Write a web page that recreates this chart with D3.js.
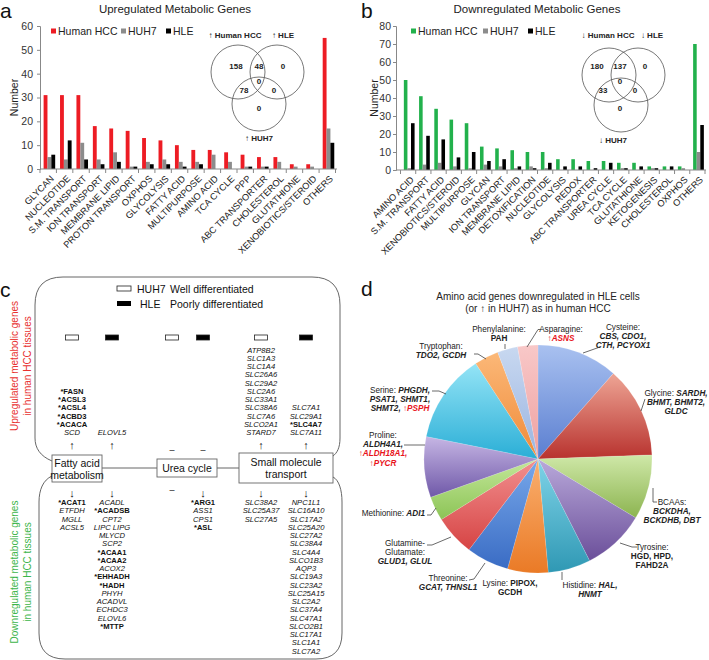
<!DOCTYPE html>
<html><head><meta charset="utf-8">
<script src="https://cdn.jsdelivr.net/npm/d3@7"></script>
<style>body{margin:0;background:#fff} svg{font-family:"Liberation Sans",Arial,sans-serif}</style>
</head><body><svg id="fig" width="709" height="660"></svg>
<script>
// ---------- DATA ----------
const catsA = ["GLYCAN","NUCLEOTIDE","S.M. TRANSPORT","ION TRANSPORT","MEMBRANE LIPID","PROTON TRANSPORT","OXPHOS","GLYCOLYSIS","FATTY ACID","MULTIPURPOSE","AMINO ACID","TCA CYCLE","PPP","ABC TRANSPORTER","CHOLESTEROL","GLUTATHIONE","XENOBIOTICS/STEROID","OTHERS"];
const hccA  = [31,31,31,18,17,16,13,12,10,8,8,7,6,5,5,2,2,55];
const huh7A = [5,4,11,4,7,1,3,4,3,3,6,3,1,1,3,1,1,17];
const hleA  = [6,12,4,2,3,1,2,2,1,2,0,0,1,1,0,0,0,11];
const ticksA = [0,10,20,30,40,50,60];

const catsB = ["AMINO ACID","S.M. TRANSPORT","FATTY ACID","XENOBIOTICS/STEROID","MULTIPURPOSE","GLYCAN","ION TRANSPORT","MEMBRANE LIPID","DETOXIFICATION","NUCLEOTIDE","GLYCOLYSIS","REDOX","ABC TRANSPORTER","UREA CYCLE","TCA CYCLE","GLUTATHIONE","KETOGENESIS","CHOLESTEROL","OXPHOS","OTHERS"];
const hccB  = [50,41,34,28,26,13,12,11,10,10,6,6,5,5,4,4,2,2,2,70];
const huh7B = [1,3,4,2,1,3,2,1,2,1,0,0,0,0,1,0,1,0,1,10];
const hleB  = [26,19,17,7,10,5,6,2,1,4,2,2,1,4,1,2,1,2,0,25];
const ticksB = [0,10,20,30,40,50,60,70,80];

const seriesNames = ["Human HCC","HUH7","HLE"];
// venn counts: HCC only, HCC∩HLE, HLE only, HCC∩HUH7, all, HLE∩HUH7, HUH7 only
const vennA = [158,48,0,78,0,0,0];
const vennB = [180,137,0,33,0,0,0];
const vennLabelsA = ["\u2191 Human HCC","\u2191 HLE","\u2191 HUH7"];
const vennLabelsB = ["\u2193 Human HCC","\u2193 HLE","\u2193 HUH7"];

// panel c
const processes = [["Fatty acid","metabolism"],["Urea cycle"],["Small molecule","transport"]];
const colCells = ["HUH7","HLE","HUH7","HLE","HUH7","HLE"];
const upGenes = [
  ["*FASN","*ACSL3","*ACSL4","*ACBD3","*ACACA","SCD"],
  ["ELOVL5"],
  [],[],
  ["ATP8B2","SLC1A3","SLC1A4","SLC26A6","SLC29A2","SLC2A6","SLC33A1","SLC38A6","SLC7A6","SLCO2A1","STARD7"],
  ["SLC7A1","SLC29A1","*SLC4A7","SLC7A11"]
];
const downGenes = [
  ["*ACAT1","ETFDH","MGLL","ACSL5"],
  ["ACADL","*ACADSB","CPT2","LIPC LIPG","MLYCD","SCP2","*ACAA1","*ACAA2","ACOX2","*EHHADH","*HADH","PHYH","ACADVL","ECHDC3","ELOVL6","*MTTP"],
  [],
  ["*ARG1","ASS1","CPS1","*ASL"],
  ["SLC38A2","SLC25A37","SLC27A5"],
  ["NPC1L1","SLC16A10","SLC17A2","SLC25A20","SLC27A2","SLC38A4","SLC4A4","SLCO1B3","AQP3","SLC19A3","SLC23A2","SLC25A15","SLC2A2","SLC37A4","SLC47A1","SLCO2B1","SLC17A1","SLC1A1","SLC7A2"]
];

// panel d
const pieNames  = ["Cysteine","Glycine","BCAAs","Tyrosine","Histidine","Lysine","Threonine","Glutamine-Glutamate","Methionine","Proline","Serine","Tryptophan","Phenylalanine","Asparagine"];
const pieValues = [4,4.5,3.2,3.1,2.1,2,2.1,2,1.2,3,4.4,1.2,1,1];

// ---------- STYLE / LAYOUT ----------
const RED="#ed1c24", GRAY="#8c8c8c", BLACK="#000", GREEN="#22b14c";
const svg = d3.select("#fig");

function barPanel(cfg){
  const g = svg.append("g");
  const x = d3.scaleBand().domain(cfg.cats).range([cfg.bx0,cfg.bx1]);
  const y = d3.scaleLinear().domain([0,cfg.ymax]).range([cfg.y0,cfg.y1]);
  const bw = x.bandwidth();
  const sub = d3.scaleBand().domain([0,1,2]).range([bw*0.22, bw*0.22+3*bw*0.235]);
  cfg.series.forEach((s,i)=>{
    g.append("g").selectAll("rect").data(s.values).join("rect")
      .attr("x",(d,j)=>x(cfg.cats[j])+sub(i)).attr("width",sub.bandwidth())
      .attr("y",d=>y(d)).attr("height",d=>y(0)-y(d)).attr("fill",s.color);
  });
  const ya = g.append("g").attr("transform",`translate(${cfg.ax},0)`)
    .call(d3.axisLeft(y).tickValues(cfg.ticks).tickSize(3).tickPadding(cfg.pad));
  ya.select(".domain").attr("stroke","#888");
  ya.selectAll(".tick line").attr("stroke","#888");
  ya.selectAll("text").attr("font-size",10.5).attr("fill","#333").attr("font-family","Liberation Sans, Arial");
  g.append("line").attr("x1",cfg.ax).attr("x2",cfg.ax1).attr("y1",cfg.y0).attr("y2",cfg.y0).attr("stroke","#888");
  const bounds = cfg.cats.map(c=>x(c)).concat([cfg.bx1]);
  g.selectAll("line.xt").data(bounds).join("line").attr("class","xt")
    .attr("x1",d=>d).attr("x2",d=>d).attr("y1",cfg.y0).attr("y2",cfg.y0+4).attr("stroke","#888");
  g.selectAll("text.xl").data(cfg.cats).join("text").attr("class","xl")
    .attr("transform",d=>`translate(${x(d)+bw/2+4},${cfg.y0+8}) rotate(-45)`)
    .attr("text-anchor","end").attr("dy","0.35em").attr("font-size",9.2).attr("fill","#222").text(d=>d);
  g.append("text").attr("transform",`translate(${cfg.numX},${(cfg.y0+cfg.y1)/2}) rotate(-90)`)
    .attr("text-anchor","middle").attr("font-size",10.5).attr("fill","#222").text("Number");
  g.append("text").attr("x",cfg.titleX).attr("y",13).attr("text-anchor","middle").attr("font-size",11.5).attr("fill","#222").text(cfg.title);
  g.append("text").attr("x",cfg.letterX).attr("y",18).attr("font-size",21).attr("fill","#111").text(cfg.letter);
  // legend
  cfg.series.forEach((s,i)=>{
    g.append("rect").attr("x",cfg.legX[i]).attr("y",28.5).attr("width",5).attr("height",5).attr("fill",s.color);
    g.append("text").attr("x",cfg.legX[i]+7).attr("y",35).attr("font-size",10.5).attr("fill","#222").text(seriesNames[i]);
  });
  // venn
  const vc = cfg.venn.centers;
  g.selectAll("circle").data(vc).join("circle").attr("cx",d=>d[0]).attr("cy",d=>d[1]).attr("r",27)
    .attr("fill","none").attr("stroke","#555").attr("stroke-width",0.8);
  g.selectAll("text.vn").data(cfg.venn.counts).join("text").attr("class","vn")
    .attr("x",(d,i)=>cfg.venn.pos[i][0]).attr("y",(d,i)=>cfg.venn.pos[i][1]+3)
    .attr("text-anchor","middle").attr("font-size",8).attr("font-weight","bold").attr("fill","#222").text(d=>d);
  g.selectAll("text.vl").data(cfg.venn.labels).join("text").attr("class","vl")
    .attr("x",(d,i)=>cfg.venn.lpos[i][0]).attr("y",(d,i)=>cfg.venn.lpos[i][1]+3)
    .attr("text-anchor","middle").attr("font-size",8).attr("font-weight","bold").attr("fill","#222").text(d=>d);
}

barPanel({cats:catsA, bx0:40, bx1:335.5, ax:40, ax1:337, y0:169, y1:26, ymax:60, ticks:ticksA, pad:4,
  series:[{values:hccA,color:RED},{values:huh7A,color:GRAY},{values:hleA,color:BLACK}],
  numX:18, title:"Upregulated Metabolic Genes", titleX:175, letter:"a", letterX:0, legX:[51,121,166],
  venn:{centers:[[238,72],[277,72],[259,104]], counts:vennA,
    pos:[[236,66],[259,66],[283,66],[244,90],[259,81],[274,90],[259,108]],
    labels:vennLabelsA, lpos:[[235,35],[283,35],[259,138]]}});

barPanel({cats:catsB, bx0:400.5, bx1:705, ax:396, ax1:706, y0:170, y1:26, ymax:80, ticks:ticksB, pad:2,
  series:[{values:hccB,color:GREEN},{values:huh7B,color:GRAY},{values:hleB,color:BLACK}],
  numX:378, title:"Downregulated Metabolic Genes", titleX:537, letter:"b", letterX:361, legX:[411,483,528],
  venn:{centers:[[609,75],[638,75],[621,105]], counts:vennB,
    pos:[[597,66],[620,66],[645,66],[603,90],[620,81],[635,90],[620,108]],
    labels:vennLabelsB, lpos:[[608,35],[652,35],[613,140]]}});

// ---------- PANEL C ----------
const gc = svg.append("g").attr("fill","#111");
gc.append("text").attr("x",0).attr("y",297).attr("font-size",21).text("c");
const frameStroke = "#555";
gc.append("path").attr("fill","none").attr("stroke",frameStroke).attr("stroke-width",0.9)
  .attr("d","M52,461 C40,456 35,448 35,438 L35,305 Q35,277 63,277 L312,277 Q340,277 340,305 L340,438 C340,448 337,453 333,456");
gc.append("path").attr("fill","none").attr("stroke",frameStroke).attr("stroke-width",0.9)
  .attr("d","M52,476 C43,480 39,490 39,502 L39,633 Q39,659 65,659 L316,659 Q342,659 342,633 L342,502 C342,490 339,480 333,477");
// legend
gc.append("rect").attr("x",117).attr("y",286).attr("width",14).attr("height",5).attr("fill","#fff").attr("stroke","#222").attr("stroke-width",0.8);
gc.append("text").attr("x",137).attr("y",293).attr("font-size",10.5).text("HUH7");
gc.append("text").attr("x",170).attr("y",293).attr("font-size",10.5).text("Well differentiated");
gc.append("rect").attr("x",117).attr("y",301).attr("width",14).attr("height",5).attr("fill","#000");
gc.append("text").attr("x",140).attr("y",308).attr("font-size",10.5).text("HLE");
gc.append("text").attr("x",170).attr("y",308).attr("font-size",10.5).text("Poorly differentiated");
// side labels
[["Upregulated metabolic genes","in human HCC tissues","#e8312f",366],["Downregulated metabolic genes","in human HCC tissues","#3cb54a",572]].forEach(s=>{
  gc.append("text").attr("transform",`translate(18,${s[3]}) rotate(-90)`).attr("text-anchor","middle").attr("font-size",10).attr("fill",s[2]).text(s[0]);
  gc.append("text").attr("transform",`translate(31,${s[3]}) rotate(-90)`).attr("text-anchor","middle").attr("font-size",10).attr("fill",s[2]).text(s[1]);
});
const colX = [72,112,172,203,261,306];
gc.selectAll("rect.cell").data(colCells).join("rect").attr("class","cell")
  .attr("x",(d,i)=>colX[i]-6.5).attr("y",335).attr("width",13).attr("height",5)
  .attr("fill",d=>d==="HLE"?"#000":"#fff").attr("stroke","#222").attr("stroke-width",0.8);
// process boxes
const boxes = [[52,455,50,27],[157,459,60,18],[239,453,94,30]];
processes.forEach((p,i)=>{
  const b = boxes[i];
  gc.append("rect").attr("x",b[0]).attr("y",b[1]).attr("width",b[2]).attr("height",b[3]).attr("fill","#fff").attr("stroke","#666").attr("stroke-width",0.9);
  p.forEach((t,k)=>gc.append("text").attr("x",b[0]+b[2]/2).attr("y",b[1]+b[3]/2+4+(p.length===2?(k===0?-6:6):0)).attr("text-anchor","middle").attr("font-size",10.5).text(t));
});
gc.append("line").attr("x1",102).attr("x2",157).attr("y1",468).attr("y2",468).attr("stroke","#666");
gc.append("line").attr("x1",217).attr("x2",239).attr("y1",468).attr("y2",468).attr("stroke","#666");
function geneText(g,x,y,name){
  const star = name.startsWith("*");
  g.append("text").attr("x",x).attr("y",y).attr("text-anchor","middle").attr("font-size",7.6)
    .attr("font-weight",star?"bold":"normal").attr("font-style",star?"normal":"italic").text(name);
}
const LS = 8.25;
upGenes.forEach((list,i)=>{
  list.forEach((n,k)=>geneText(gc,colX[i],435-(list.length-1-k)*LS,n));
  if(list.length) gc.append("text").attr("x",colX[i]).attr("y",449).attr("text-anchor","middle").attr("font-size",11).text("\u2191");
  else gc.append("text").attr("x",colX[i]).attr("y",453).attr("text-anchor","middle").attr("font-size",9).text("\u2013");
});
downGenes.forEach((list,i)=>{
  list.forEach((n,k)=>geneText(gc,colX[i],505+k*LS,n));
  if(list.length) gc.append("text").attr("x",colX[i]).attr("y",497).attr("text-anchor","middle").attr("font-size",11).text("\u2193");
  else gc.append("text").attr("x",colX[i]).attr("y",493).attr("text-anchor","middle").attr("font-size",9).text("\u2013");
});

// ---------- PANEL D ----------
const gd = svg.append("g");
gd.append("text").attr("x",361).attr("y",296).attr("font-size",21).attr("fill","#111").text("d");
gd.append("text").attr("x",538).attr("y",300).attr("text-anchor","middle").attr("font-size",10).attr("fill","#222").text("Amino acid genes downregulated  in HLE cells");
gd.append("text").attr("x",538).attr("y",312).attr("text-anchor","middle").attr("font-size",10).attr("fill","#222").text("(or \u2191 in HUH7) as in human HCC");
const sliceColors = [["#a9c1f0","#5a7ed0"],["#eea595","#b8322e"],["#cfe8a8","#8cb450"],["#b9a9da","#6b4f9a"],["#80d4e8","#2f98b4"],["#fab070","#ea7a26"],["#78a8ea","#3a6cc4"],["#f29090","#d64444"],["#c4e79a","#8cc456"],["#c6b6e4","#6f58a8"],["#94e4f6","#2aaed6"],["#fbb878","#f08a38"],["#c8d8f0","#9ab4e0"],["#f8c8c8","#eea0a0"]];
const defs = svg.append("defs");
sliceColors.forEach((c,i)=>{
  const lg = defs.append("linearGradient").attr("id","sg"+i).attr("x1",0).attr("y1",0).attr("x2",0).attr("y2",1);
  lg.append("stop").attr("offset","0%").attr("stop-color",c[0]);
  lg.append("stop").attr("offset","100%").attr("stop-color",c[1]);
});
const pcx = 538, pcy = 459, pr = 114;
const pie = d3.pie().sort(null).value(d=>d);
const arc = d3.arc().innerRadius(0).outerRadius(pr);
gd.append("g").attr("transform",`translate(${pcx},${pcy})`).selectAll("path").data(pie(pieValues)).join("path")
  .attr("d",arc).attr("fill",(d,i)=>`url(#sg${i})`).attr("stroke","rgba(255,255,255,0.25)").attr("stroke-width",0.5);

// labels: [x, y, anchor, lines(segments), leader points]
const pieLabels = [
  [623,330,"middle",[[["Cysteine:","n"]],[["CBS, CDO1,","bi"]],[["CTH, PCYOX1","bi"]]],[[600,347],[583,353]]],
  [676,396,"middle",[[["Glycine: ","n"],["SARDH,","bi"]],[["BHMT, BHMT2,","bi"]],[["GLDC","bi"]]],[[645,399],[641,411]]],
  [672,505,"middle",[[["BCAAs:","n"]],[["BCKDHA,","bi"]],[["BCKDHB,  DBT","bi"]]],[[653,488],[653,502],[657,502]]],
  [652,550,"middle",[[["Tyrosine:","n"]],[["HGD, HPD,","b"]],[["FAHD2A","b"]]],[[620,543],[632,547],[637,547]]],
  [590,588,"middle",[[["Histidine: ","n"],["HAL,","bi"]],[["HNMT","bi"]]],[[562,572],[562,580]]],
  [510,586,"middle",[[["Lysine: ","n"],["PIPOX,","b"]],[["GCDH","b"]]],[]],
  [448,581,"middle",[[["Threonine:","n"]],[["GCAT, THNSL1","bi"]]],[[469,580],[474,579],[485,563]]],
  [405,546,"middle",[[["Glutamine-","n"]],[["Glutamate:","n"]],[["GLUD1,  GLUL","bi"]]],[[427,545],[432,545],[451,537]]],
  [425,516,"end",[[["Methionine:  ","n"],["ADI1","bi"]]],[[427,515],[431,515],[436,508]]],
  [383,438,"middle",[[["Proline:","n"]],[["ALDH4A1,","bi"]],[["\u2191","r"],["ALDH18A1,","rbi"]],[["\u2191","r"],["PYCR","rbi"]]],[[404,445],[425,445]]],
  [400,393,"middle",[[["Serine: ","n"],["PHGDH,","bi"]],[["PSAT1, SHMT1,","bi"]],[["SHMT2, ","bi"],["\u2191","r"],["PSPH","rbi"]]],[[432,391],[439,391],[446,394]]],
  [441,349,"middle",[[["Tryptophan:","n"]],[["TDO2, GCDH","bi"]]],[[474,354],[478,354],[486,359]]],
  [499,332,"middle",[[["Phenylalanine:","n"]],[["PAH","b"]]],[[505,344],[505,349]]],
  [561,332,"middle",[[["Asparagine:","n"]],[["\u2191","r"],["ASNS","rbi"]]],[[541,329.5],[538,329.5],[527,347]]]
];
pieLabels.forEach((L,i)=>{
  const t = gd.append("text").attr("font-size",8.2).attr("fill","#222").attr("text-anchor",L[2]).attr("data-slice",pieNames[i]);
  L[3].forEach((line,k)=>{
    line.forEach((seg,s)=>{
      const ts = t.append("tspan").text(seg[0]);
      if(s===0) ts.attr("x",L[0]).attr("y",L[1]+k*9.2);
      if(seg[1].includes("b")) ts.attr("font-weight","bold");
      if(seg[1].includes("i")) ts.attr("font-style","italic");
      if(seg[1].includes("r")) ts.attr("fill","#e8141c");
    });
  });
  if(L[4].length) gd.append("polyline").attr("points",L[4].map(p=>p.join(",")).join(" ")).attr("fill","none").attr("stroke","#444").attr("stroke-width",0.8);
});
</script></body></html>
